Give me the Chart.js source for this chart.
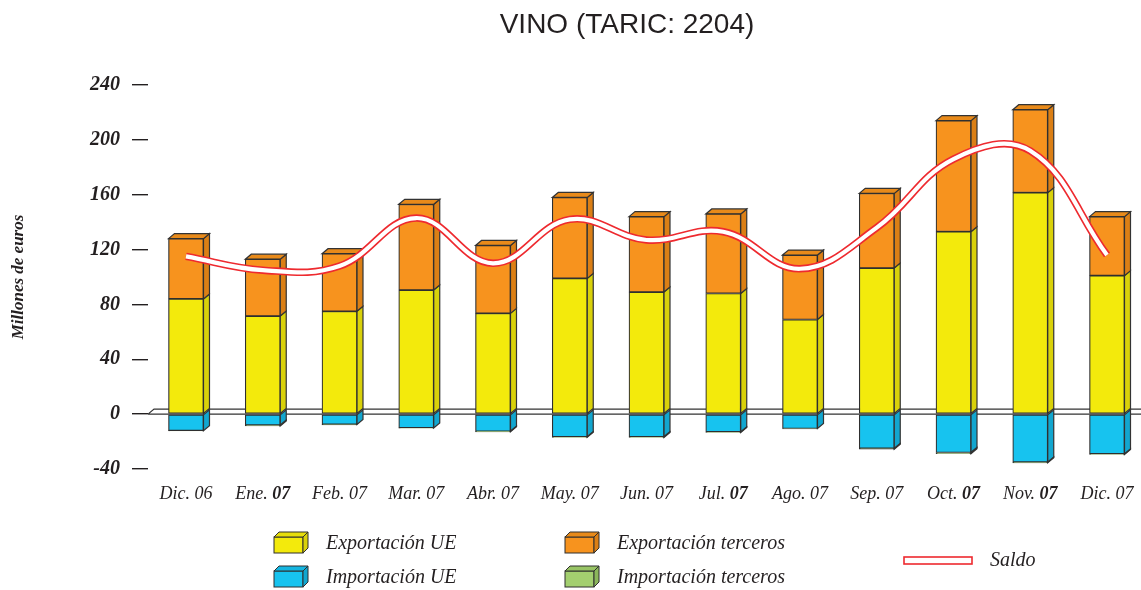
<!DOCTYPE html>
<html lang="es">
<head>
<meta charset="utf-8">
<title>VINO (TARIC: 2204)</title>
<script src="https://cdn.jsdelivr.net/npm/chart.js@4.4.1/dist/chart.umd.min.js"></script>
<style>
  html, body { margin: 0; padding: 0; background: #fff; }
  #wrap { width: 1141px; height: 590px; position: relative; }
</style>
</head>
<body>
<div id="wrap"><canvas id="grafico"></canvas></div>
<script>
// Datos (millones de euros)
const meses = ['Dic.', 'Ene.', 'Feb.', 'Mar.', 'Abr.', 'May.', 'Jun.', 'Jul.', 'Ago.', 'Sep.', 'Oct.', 'Nov.', 'Dic.'];
const anios = ['06', '07', '07', '07', '07', '07', '07', '07', '07', '07', '07', '07', '07'];
const anioNegrita = [false, true, false, false, false, false, false, true, false, false, true, true, false];

const exportacionUE = [84, 71.5, 75, 90.5, 73.5, 99, 89, 88, 69, 106.5, 133, 161.5, 101];
const exportacionTerceros = [44, 41.5, 42, 62.5, 49.5, 59, 55, 58, 47, 54.5, 81, 60.5, 43];
const importacionUE = [-12, -8, -7.5, -10, -12.5, -16.5, -16.5, -13, -10.5, -25, -28, -35, -29];
const importacionTerceros = [-0.3, -0.6, -0.3, -0.3, -0.4, -0.4, -0.5, -0.4, -0.3, -0.5, -0.8, -0.5, -0.4];
const saldo = [115, 105, 108, 143, 110, 142, 127, 133, 106, 136, 186, 192, 116];

const ticksY = [-40, 0, 40, 80, 120, 160, 200, 240];

// Colores: cara frontal, lateral y superior
const COLORES = {
  amarillo: { frente: '#f3ea0c', lado: '#d9d10a', arriba: '#e6dd0b' },
  naranja: { frente: '#f7931e', lado: '#db7f15', arriba: '#e88a1a' },
  azul: { frente: '#17c3ef', lado: '#12a6cf', arriba: '#15b5e0' },
  verde: { frente: '#a3cf6f', lado: '#8bb65b', arriba: '#98c465' },
};
const BORDE = '#2f2f2f';
const ROJO = '#ee2a2f';
const PROF_X = 6;
const PROF_Y = 5;

const SERIF = '"Liberation Serif", "DejaVu Serif", serif';

const puntos = (arr) => arr.map((v, i) => ({ x: i, y: v }));

function serieBarra(label, datos, color) {
  return {
    type: 'bar',
    label,
    data: puntos(datos),
    backgroundColor: color.frente,
    borderColor: BORDE,
    borderWidth: 1.2,
    borderSkipped: false,
    barThickness: 35,
    stack: 'comercio',
    order: 2,
    clip: false,
    _color: color,
  };
}

function serieSaldo(label, color, ancho, pila, orden) {
  return {
    type: 'line',
    label,
    data: puntos(saldo),
    borderColor: color,
    borderWidth: ancho,
    borderCapStyle: 'butt',
    tension: 0.4,
    pointRadius: 0,
    stack: pila,
    order: orden,
    clip: false,
  };
}

// Caras laterales y superiores del efecto 3D + plano del eje cero
const plugin3D = {
  id: 'barras3D',
  beforeDatasetsDraw(chart) {
    const { ctx, chartArea, scales } = chart;
    const y0 = scales.y.getPixelForValue(0);
    const izq = chartArea.left;

    ctx.save();
    ctx.strokeStyle = '#333';
    ctx.lineWidth = 1.2;
    ctx.beginPath();
    ctx.moveTo(izq, y0);
    ctx.lineTo(chartArea.right, y0);
    ctx.moveTo(izq, y0);
    ctx.lineTo(izq + PROF_X, y0 - PROF_Y);
    ctx.lineTo(chartArea.right, y0 - PROF_Y);
    ctx.stroke();

    chart.data.datasets.forEach((ds, di) => {
      if (ds.type !== 'bar') return;
      const meta = chart.getDatasetMeta(di);
      meta.data.forEach((el, i) => {
        const arriba = Math.min(el.y, el.base);
        const abajo = Math.max(el.y, el.base);
        if (abajo - arriba < 0.5) return;
        const xI = el.x - el.width / 2;
        const xD = el.x + el.width / 2;

        // lateral derecho
        ctx.beginPath();
        ctx.moveTo(xD, arriba);
        ctx.lineTo(xD + PROF_X, arriba - PROF_Y);
        ctx.lineTo(xD + PROF_X, abajo - PROF_Y);
        ctx.lineTo(xD, abajo);
        ctx.closePath();
        ctx.fillStyle = ds._color.lado;
        ctx.fill();
        ctx.stroke();

        // tapa superior solo para el último tramo positivo
        if (di === 1 && ds.data[i].y > 0) {
          ctx.beginPath();
          ctx.moveTo(xI, arriba);
          ctx.lineTo(xI + PROF_X, arriba - PROF_Y);
          ctx.lineTo(xD + PROF_X, arriba - PROF_Y);
          ctx.lineTo(xD, arriba);
          ctx.closePath();
          ctx.fillStyle = ds._color.arriba;
          ctx.fill();
          ctx.stroke();
        }
      });
    });
    ctx.restore();
  },
};

function caja3D(ctx, x, y, w, h, color) {
  const d = 5;
  ctx.fillStyle = color.frente;
  ctx.fillRect(x, y, w, h);
  ctx.strokeRect(x, y, w, h);
  ctx.beginPath();
  ctx.moveTo(x + w, y);
  ctx.lineTo(x + w + d, y - d);
  ctx.lineTo(x + w + d, y + h - d);
  ctx.lineTo(x + w, y + h);
  ctx.closePath();
  ctx.fillStyle = color.lado;
  ctx.fill();
  ctx.stroke();
  ctx.beginPath();
  ctx.moveTo(x, y);
  ctx.lineTo(x + d, y - d);
  ctx.lineTo(x + w + d, y - d);
  ctx.lineTo(x + w, y);
  ctx.closePath();
  ctx.fillStyle = color.arriba;
  ctx.fill();
  ctx.stroke();
}

// Título, etiquetas del eje X (año en negrita en algunos meses) y leyenda
const pluginTextos = {
  id: 'textos',
  afterDraw(chart) {
    const { ctx, scales } = chart;
    ctx.save();

    ctx.fillStyle = '#231f20';
    ctx.font = '28px "Liberation Sans", Arial, sans-serif';
    ctx.textAlign = 'center';
    ctx.textBaseline = 'alphabetic';
    ctx.fillText('VINO (TARIC: 2204)', 627, 33);

    // etiquetas de categoría
    ctx.textBaseline = 'middle';
    ctx.textAlign = 'left';
    meses.forEach((mes, i) => {
      const cx = scales.x.getPixelForValue(i);
      const fMes = 'italic 18px ' + SERIF;
      const fAnio = (anioNegrita[i] ? 'italic bold 18px ' : 'italic 18px ') + SERIF;
      ctx.font = fMes;
      const wMes = ctx.measureText(mes + ' ').width;
      ctx.font = fAnio;
      const wAnio = ctx.measureText(anios[i]).width;
      const x0 = cx - (wMes + wAnio) / 2;
      ctx.font = fMes;
      ctx.fillText(mes + ' ', x0, 494);
      ctx.font = fAnio;
      ctx.fillText(anios[i], x0 + wMes, 494);
    });

    // leyenda
    ctx.strokeStyle = BORDE;
    ctx.lineWidth = 1;
    const entradas = [
      { texto: 'Exportación UE', color: COLORES.amarillo, x: 274, y: 544 },
      { texto: 'Exportación terceros', color: COLORES.naranja, x: 565, y: 544 },
      { texto: 'Importación UE', color: COLORES.azul, x: 274, y: 578 },
      { texto: 'Importación terceros', color: COLORES.verde, x: 565, y: 578 },
    ];
    ctx.font = 'italic 20px ' + SERIF;
    entradas.forEach((e) => {
      caja3D(ctx, e.x, e.y - 7, 29, 16, e.color);
      ctx.fillStyle = '#231f20';
      ctx.fillText(e.texto, e.x + 52, e.y);
    });

    ctx.fillStyle = '#fff';
    ctx.fillRect(904, 557, 68, 7);
    ctx.strokeStyle = ROJO;
    ctx.lineWidth = 1.6;
    ctx.strokeRect(904, 557, 68, 7);
    ctx.fillStyle = '#231f20';
    ctx.fillText('Saldo', 990, 561);

    ctx.restore();
  },
};

new Chart(document.getElementById('grafico'), {
  type: 'bar',
  data: {
    datasets: [
      serieBarra('Exportación UE', exportacionUE, COLORES.amarillo),
      serieBarra('Exportación terceros', exportacionTerceros, COLORES.naranja),
      serieBarra('Importación UE', importacionUE, COLORES.azul),
      serieBarra('Importación terceros', importacionTerceros, COLORES.verde),
      serieSaldo('Saldo', ROJO, 7.5, 'saldoBorde', 1),
      serieSaldo('Saldo (interior)', '#ffffff', 4.2, 'saldoInterior', 0),
    ],
  },
  options: {
    responsive: true,
    maintainAspectRatio: false,
    animation: false,
    events: [],
    layout: { padding: { top: 85, left: 0, right: 0, bottom: 0 } },
    plugins: {
      legend: { display: false },
      tooltip: { enabled: false },
      title: { display: false },
    },
    scales: {
      x: {
        type: 'linear',
        min: -0.495,
        max: 12.443,
        offset: false,
        stacked: true,
        grid: { display: false, drawTicks: false },
        border: { display: false },
        ticks: { display: false },
        afterFit(scale) { scale.height = 121; },
      },
      y: {
        stacked: true,
        min: -40,
        max: 240,
        afterBuildTicks(scale) { scale.ticks = ticksY.map((v) => ({ value: v })); },
        grid: {
          drawOnChartArea: false,
          drawTicks: true,
          tickLength: 16,
          color: '#231f20',
          lineWidth: 1.4,
        },
        border: { display: false },
        ticks: {
          padding: 12,
          color: '#231f20',
          font: { family: SERIF, size: 20, style: 'italic', weight: 'bold' },
        },
        title: {
          display: true,
          text: 'Millones de euros',
          color: '#231f20',
          padding: { top: 8, bottom: 0 },
          font: { family: SERIF, size: 17, style: 'italic', weight: 'bold' },
        },
        afterFit(scale) { scale.width = 148; },
      },
    },
  },
  plugins: [plugin3D, pluginTextos],
});
</script>
</body>
</html>
